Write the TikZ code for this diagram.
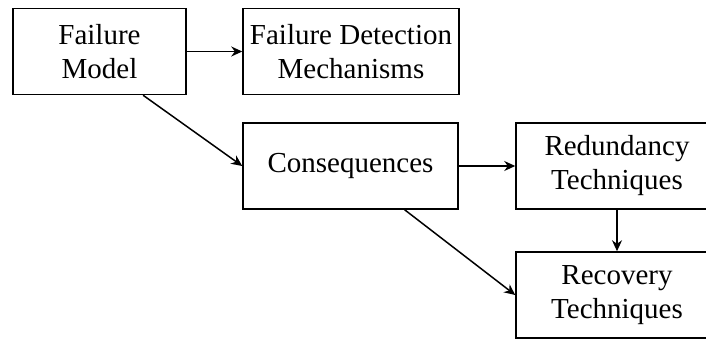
\documentclass[tikz,border=0pt]{standalone}
\usepackage{fontspec}
\setmainfont{Liberation Serif}
\usetikzlibrary{arrows.meta,calc}

\begin{document}
\begin{tikzpicture}[x=0.5pt,y=-0.5pt,
    block/.style={draw,line width=0.75pt,inner sep=0pt,align=center,
      minimum height=43pt,font=\rmfamily\fontsize{14.5}{17}\selectfont},
    link/.style={-{Stealth[length=5.5pt,width=5pt]},line width=0.75pt}]
        \useasboundingbox (0,0) rectangle (706,338);
        % blocks
        \node[block,minimum width=86.5pt] (model) at (99.5,51.5) {Failure\\Model};
        \node[block,minimum width=108pt] (detect) at (351,51.5) {Failure Detection\\Mechanisms};
        \node[block,minimum width=107.5pt] (conseq) at (350.5,166) {Consequences};
        \node[block,minimum width=101pt] (redund) at (617,166) {Redundancy\\Techniques};
        \node[block,minimum width=101pt] (recov) at (617,295) {Recovery\\Techniques};
        % links
        \draw[link] (model) -- (detect);
        \draw[link] ($(model.south west)!0.75!(model.south east)$) -- (conseq.west);
        \draw[link] (conseq) -- (redund);
        \draw[link] ($(conseq.south west)!0.75!(conseq.south east)$) -- (recov.west);
        \draw[link] (redund) -- (recov);
\end{tikzpicture}
\end{document}
